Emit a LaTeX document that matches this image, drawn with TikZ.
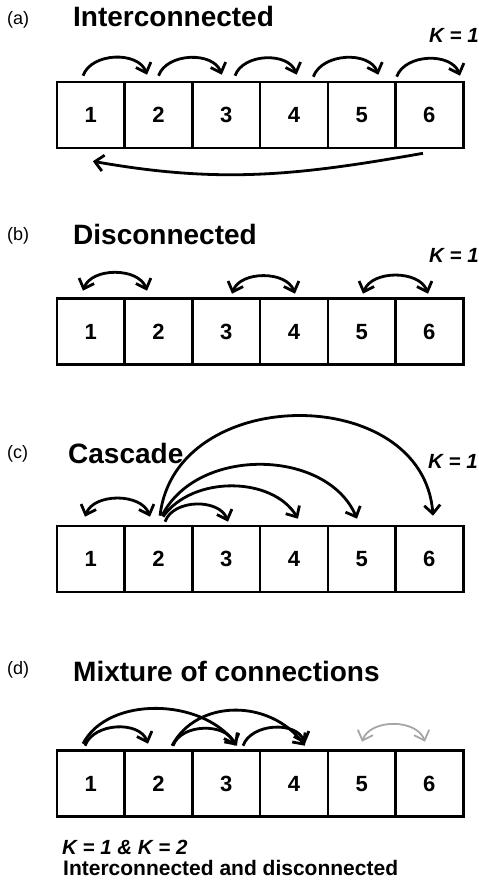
\documentclass[tikz,border=0pt]{standalone}
\usepackage{fontspec}
\setmainfont{Liberation Sans}
\usetikzlibrary{arrows.meta, positioning}
\tikzstyle{cell} = [rectangle, minimum width=67.7pt, minimum height=66pt, inner sep=0pt, text height=15.8pt, text depth=0pt, text centered, draw=black, line width=2.6pt, font=\bfseries\fontsize{22}{25}\selectfont]
\tikzstyle{panel} = [anchor=west, inner sep=0pt, font=\fontsize{18}{22}\selectfont]
\tikzstyle{heading} = [anchor=west, inner sep=0pt, font=\bfseries\fontsize{28}{32}\selectfont]
\tikzstyle{kval} = [inner sep=0pt, font=\bfseries\itshape\fontsize{20.5}{24}\selectfont]
\tikzstyle{caption} = [anchor=west, inner sep=0pt, font=\bfseries\fontsize{21}{24}\selectfont]
\tikzstyle{arrow} = [line width=2.8pt, -{Straight Barb[length=8.5pt,width=16pt]}]
\tikzstyle{twoway} = [line width=2.8pt, {Straight Barb[length=8.5pt,width=16pt]}-{Straight Barb[length=8.5pt,width=16pt]}]
\tikzstyle{faint} = [draw=gray!70, line width=1.8pt]

\begin{document}
\begin{tikzpicture}[x=1pt, y=1pt, node distance=67.7pt]
        \useasboundingbox (0,0) rectangle (479,886);

        % (a) interconnected
        \node (taga) [panel] at (7,866) {(a)};
        \node (titlea) [heading] at (73,869) {Interconnected};
        \node (ka) [kval, anchor=east] at (479,851) {K = 1};
        \node (a1) [cell] at (90.85,771) {1};
        \node (a2) [cell, right of = a1] {2};
        \node (a3) [cell, right of = a2] {3};
        \node (a4) [cell, right of = a3] {4};
        \node (a5) [cell, right of = a4] {5};
        \node (a6) [cell, right of = a5] {6};

        \draw[arrow] ([shift={(-7.85,5)}]a1.north) to[out=70,in=110] ([shift={(-11.55,6)}]a2.north);
        \draw[arrow] ([shift={(0,5)}]a2.north) to[out=70,in=110] ([shift={(-4.5,6)}]a3.north);
        \draw[arrow] ([shift={(8.75,5)}]a3.north) to[out=70,in=110] ([shift={(2.7,6)}]a4.north);
        \draw[arrow] ([shift={(19.4,4)}]a4.north) to[out=70,in=110] ([shift={(16.7,6)}]a5.north);
        \draw[arrow] ([shift={(-32.7,4)}]a6.north) to[out=70,in=110] ([shift={(30.65,5)}]a6.north);
        \draw[arrow] ([shift={(-6.35,-4)}]a6.south) to[out=190,in=-10] ([shift={(2,-12)}]a1.south);

        % (b) disconnected
        \node (tagb) [panel] at (7,650.5) {(b)};
        \node (titleb) [heading] at (73,651) {Disconnected};
        \node (kb) [kval, anchor=east] at (479,631) {K = 1};
        \node (b1) [cell] at (90.85,554.5) {1};
        \node (b2) [cell, right of = b1] {2};
        \node (b3) [cell, right of = b2] {3};
        \node (b4) [cell, right of = b3] {4};
        \node (b5) [cell, right of = b4] {5};
        \node (b6) [cell, right of = b5] {6};

        \draw[twoway] ([shift={(-7.85,6.5)}]b1.north) to[out=70,in=110] ([shift={(-11.55,6.5)}]b2.north);
        \draw[twoway] ([shift={(5.75,3.5)}]b3.north) to[out=70,in=110] ([shift={(1,3.5)}]b4.north);
        \draw[twoway] ([shift={(1.35,3.5)}]b5.north) to[out=70,in=110] ([shift={(-1.35,3.5)}]b6.north);

        % (c) cascade
        \node (tagc) [panel] at (7,432) {(c)};
        \node (titlec) [heading] at (68,433) {Cascade};
        \node (kc) [kval, anchor=east] at (478,425) {K = 1};
        \node (c1) [cell] at (90.85,327) {1};
        \node (c2) [cell, right of = c1] {2};
        \node (c3) [cell, right of = c2] {3};
        \node (c4) [cell, right of = c3] {4};
        \node (c5) [cell, right of = c4] {5};
        \node (c6) [cell, right of = c5] {6};

        \draw[twoway] ([shift={(-5.85,8)}]c1.north) to[out=70,in=110] ([shift={(-8.55,8)}]c2.north);
        \draw[arrow] ([shift={(6.45,3)}]c2.north) to[out=70,in=110] ([shift={(1.75,3)}]c3.north);
        \draw[arrow] ([shift={(4.45,8)}]c2.north) .. controls +(30,42) and +(-25,42) .. ([shift={(4,6)}]c4.north);
        \draw[arrow] ([shift={(3.5,9)}]c2.north) .. controls +(35,70) and +(-30,70) .. ([shift={(-4.65,6)}]c5.north);
        \draw[arrow] ([shift={(1.5,9)}]c2.north) .. controls +(15,133) and +(-10,133) .. ([shift={(3.65,9)}]c6.north);

        % (d) mixture
        \node (tagd) [panel] at (7,216) {(d)};
        \node (titled) [heading] at (73,215) {Mixture of connections};
        \node (d1) [cell] at (90.85,102.5) {1};
        \node (d2) [cell, right of = d1] {2};
        \node (d3) [cell, right of = d2] {3};
        \node (d4) [cell, right of = d3] {4};
        \node (d5) [cell, right of = d4] {5};
        \node (d6) [cell, right of = d5] {6};
        \node (kd) [kval, anchor=west] at (62,39) {K = 1 \& K = 2};
        \node (noted) [caption] at (63,18) {Interconnected and disconnected};

        \draw[arrow] ([shift={(-5.85,3.5)}]d1.north) to[out=70,in=110] ([shift={(-10.55,5.5)}]d2.north);
        \draw[arrow] ([shift={(-7.85,5.5)}]d1.north) .. controls +(25,48) and +(-35,48) .. ([shift={(10.75,3.5)}]d3.north);
        \draw[arrow] ([shift={(14.45,3.5)}]d2.north) to[out=70,in=110] ([shift={(8.75,3.5)}]d3.north);
        \draw[arrow] ([shift={(13.45,3.5)}]d2.north) .. controls +(25,47) and +(-35,47) .. ([shift={(11,3.5)}]d4.north);
        \draw[arrow] ([shift={(16.75,3.5)}]d3.north) to[out=70,in=110] ([shift={(11,5.5)}]d4.north);
        \draw[twoway, faint] ([shift={(0.35,7.5)}]d5.north) to[out=70,in=110] ([shift={(-4.35,7.5)}]d6.north);
    \end{tikzpicture}
\end{document}
